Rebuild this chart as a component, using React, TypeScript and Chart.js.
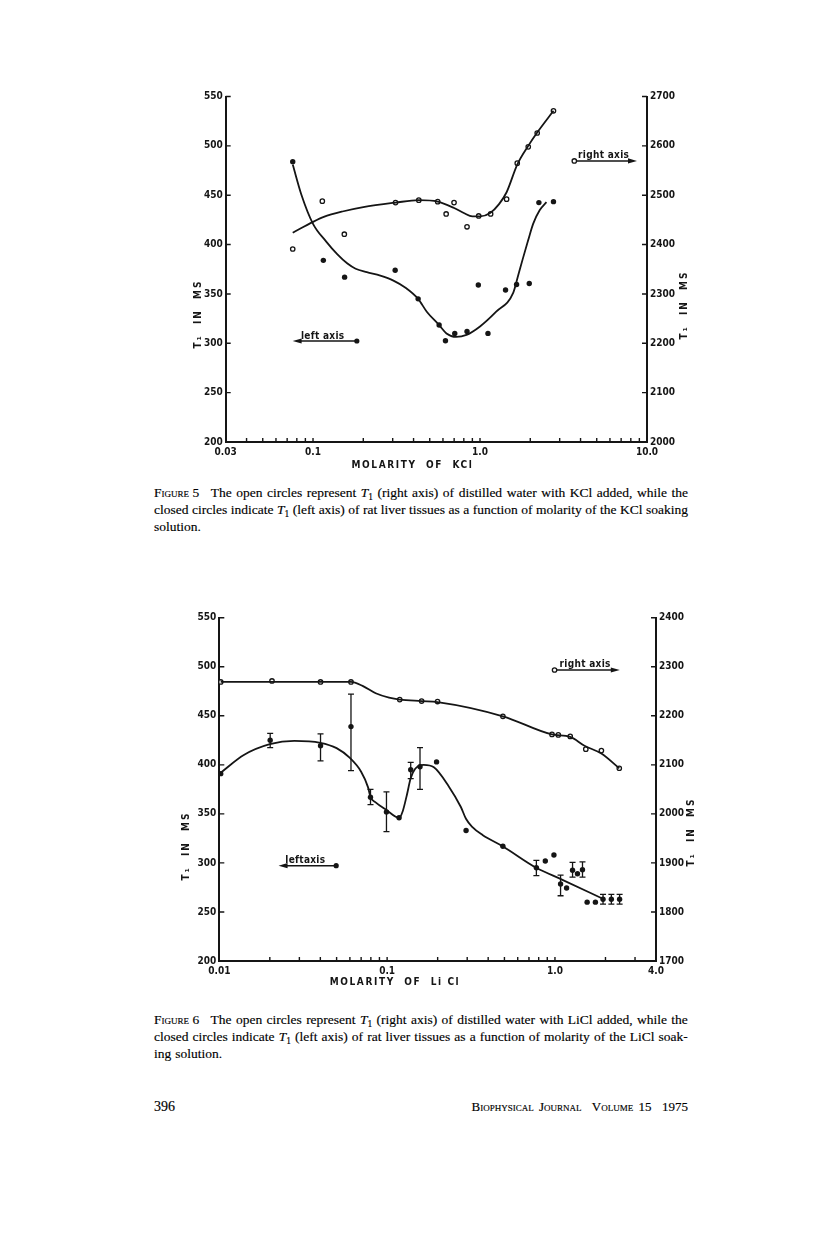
import React, { useEffect, useRef } from "react";
import { Chart, registerables } from "chart.js";

Chart.register(...registerables);

const INK = "#151515";
const SANS = '"DejaVu Sans Condensed", "DejaVu Sans", sans-serif';
const SERIF = '"Liberation Serif", "Times New Roman", serif';

// ---------------- Figure 5 : KCl ----------------
const kclTissueMolarity = [0.0756, 0.1153, 0.1546, 0.3105, 0.4261, 0.569, 0.621, 0.706, 0.836, 0.977, 1.116, 1.422, 1.656, 1.972, 2.252, 2.754];
const kclTissueT1 = [484, 384, 367, 374, 345, 318.5, 302.5, 310, 312, 359, 310, 354, 359.5, 360.5, 442.5, 443.5];
const kclTissueFitMolarity = [0.0756, 0.085, 0.1, 0.12, 0.14, 0.16, 0.18, 0.21, 0.253, 0.303, 0.36, 0.426, 0.48, 0.569, 0.63, 0.72, 0.83, 1.0, 1.25, 1.58, 1.7, 1.8, 1.94, 2.08, 2.28, 2.5];
const kclTissueFitT1 = [481, 451, 421, 403, 390, 381, 375.5, 372, 368.5, 363.5, 356, 345, 332, 318.5, 310, 306.5, 308.5, 317, 332, 351, 370, 385, 404, 421, 435, 443];
const kclWaterMolarity = [0.0756, 0.1137, 0.154, 0.312, 0.43, 0.558, 0.627, 0.699, 0.836, 0.982, 1.158, 1.443, 1.671, 1.945, 2.2, 2.754];
const kclWaterT1 = [2391, 2488, 2421, 2485, 2490, 2487, 2462, 2485, 2436, 2458, 2462, 2492, 2565, 2598, 2626, 2671];
const kclWaterFitMolarity = [0.0756, 0.1, 0.116, 0.15, 0.2, 0.312, 0.43, 0.558, 0.7, 0.8, 0.9, 1.0, 1.15, 1.3, 1.443, 1.671, 1.945, 2.2, 2.754];
const kclWaterFitT1 = [2424, 2446, 2456, 2467, 2476, 2485, 2490, 2487, 2474, 2464, 2457, 2457, 2464, 2482, 2506, 2562, 2600, 2627, 2671];
const kclXTicks = [0.03, 0.04, 0.05, 0.06, 0.07, 0.08, 0.09, 0.1, 0.2, 0.3, 0.4, 0.5, 0.6, 0.7, 0.8, 0.9, 1, 2, 3, 4, 5, 6, 7, 8, 9, 10];
const kclXLabelValues = [0.03, 0.1, 1, 10];
const kclXLabelTexts = ["0.03", "0.1", "1.0", "10.0"];
const kclLeftTicks = [200, 250, 300, 350, 400, 450, 500, 550];
const kclRightTicks = [2000, 2100, 2200, 2300, 2400, 2500, 2600, 2700];
// annotation arrows: [fromMolarity, toMolarity, leftAxisValue]
const kclRightNote = [3.67, 8.71, 484.7];
const kclLeftNote = [0.183, 0.0755, 302.3];

// ---------------- Figure 6 : LiCl ----------------
const licTissueMolarity = [0.0102, 0.0201, 0.0401, 0.0609, 0.0796, 0.0991, 0.1178, 0.1382, 0.157, 0.197, 0.2954, 0.4895, 0.775, 0.876, 0.986, 1.08, 1.173, 1.273, 1.362, 1.459, 1.555, 1.742, 1.934, 2.168, 2.428];
const licTissueT1 = [391, 425, 419.5, 439, 367, 352, 346, 395, 398, 403, 333, 317, 295, 302, 308, 278.5, 274.5, 292.5, 289, 293, 260, 260, 263, 263, 263];
const licTissueErrLow = [null, 417.5, 404, 394, 359.5, 332, null, 386, 375, null, null, null, 287, null, null, 266.5, null, 285.5, null, 285.5, null, null, 258, 258, 258];
const licTissueErrHigh = [null, 432, 431.5, 472, 375, 372.5, null, 402.5, 417.5, null, null, null, 302.5, null, null, 287.5, null, 300.5, null, 301, null, null, 268, 268, 268];
const licTissueFitMolarity = [0.0102, 0.014, 0.02, 0.028, 0.04, 0.05, 0.06, 0.07, 0.077, 0.0796, 0.085, 0.099, 0.118, 0.124, 0.131, 0.138, 0.147, 0.165, 0.19, 0.233, 0.275, 0.295, 0.32, 0.37, 0.49, 0.775, 1.1, 1.9];
const licTissueFitT1 = [392, 410, 421, 424.5, 422.5, 417, 407, 393, 377, 367, 362, 354, 346, 353, 369, 386, 396, 400, 397.5, 378, 357, 345, 337, 328.5, 316.8, 295, 283, 264];
const licWaterMolarity = [0.0102, 0.0206, 0.0401, 0.0609, 0.1189, 0.1605, 0.1997, 0.4895, 0.96, 1.047, 1.233, 1.527, 1.891, 2.417];
const licWaterT1 = [2269, 2271, 2269, 2269, 2233, 2230, 2229, 2199, 2162, 2161, 2158, 2132, 2129, 2093];
const licWaterFitMolarity = [0.0102, 0.0609, 0.0714, 0.0855, 0.1027, 0.1189, 0.1605, 0.1997, 0.4895, 0.96, 1.233, 1.5, 1.89, 2.417];
const licWaterFitT1 = [2269, 2269, 2261, 2246, 2237, 2233, 2230, 2228, 2199, 2162, 2157, 2139, 2123, 2093];
const licXTicks = [0.01, 0.02, 0.03, 0.04, 0.05, 0.06, 0.07, 0.08, 0.09, 0.1, 0.2, 0.3, 0.4, 0.5, 0.6, 0.7, 0.8, 0.9, 1, 2, 3, 4];
const licXLabelValues = [0.01, 0.1, 1, 4];
const licXLabelTexts = ["0.01", "0.1", "1.0", "4.0"];
const licLeftTicks = [200, 250, 300, 350, 400, 450, 500, 550];
const licRightTicks = [1700, 1800, 1900, 2000, 2100, 2200, 2300, 2400];
const licRightNote = [0.9945, 2.434, 496.7];
const licLeftNote = [0.0497, 0.02254, 297.2];

type Box = { left: number; top: number; width: number; height: number; axisLeft: number; axisRight: number; padTop: number; axisBottom: number };

type FigSpec = {
  box: Box;
  xMin: number; xMax: number; xTicks: number[]; xLabelValues: number[]; xLabelTexts: string[];
  leftTicks: number[]; rightTicks: number[];
  tissueM: number[]; tissueT1: number[]; tissueFitM: number[]; tissueFitT1: number[];
  waterM: number[]; waterT1: number[]; waterFitM: number[]; waterFitT1: number[];
  errM: number[]; errLow: (number | null)[]; errHigh: (number | null)[];
  rightNote: number[]; leftNote: number[];
  rightText: string; leftText: string; xTitle: string;
  xTitlePos: [number, number]; leftTitlePos: [number, number]; rightTitlePos: [number, number];
};

const fig5: FigSpec = {
  box: { left: 150, top: 80, width: 560, height: 400, axisLeft: 75.7, axisRight: 63, padTop: 16.5, axisBottom: 38 },
  xMin: 0.03, xMax: 10, xTicks: kclXTicks, xLabelValues: kclXLabelValues, xLabelTexts: kclXLabelTexts,
  leftTicks: kclLeftTicks, rightTicks: kclRightTicks,
  tissueM: kclTissueMolarity, tissueT1: kclTissueT1, tissueFitM: kclTissueFitMolarity, tissueFitT1: kclTissueFitT1,
  waterM: kclWaterMolarity, waterT1: kclWaterT1, waterFitM: kclWaterFitMolarity, waterFitT1: kclWaterFitT1,
  errM: [], errLow: [], errHigh: [],
  rightNote: kclRightNote, leftNote: kclLeftNote,
  rightText: "right axis", leftText: "left axis", xTitle: "MOLARITY  OF  KCl",
  xTitlePos: [262.5, 385], leftTitlePos: [48.5, 234], rightTitlePos: [534, 225],
};

const fig6: FigSpec = {
  box: { left: 150, top: 600, width: 570, height: 400, axisLeft: 69.3, axisRight: 64, padTop: 17.7, axisBottom: 39 },
  xMin: 0.01, xMax: 4, xTicks: licXTicks, xLabelValues: licXLabelValues, xLabelTexts: licXLabelTexts,
  leftTicks: licLeftTicks, rightTicks: licRightTicks,
  tissueM: licTissueMolarity, tissueT1: licTissueT1, tissueFitM: licTissueFitMolarity, tissueFitT1: licTissueFitT1,
  waterM: licWaterMolarity, waterT1: licWaterT1, waterFitM: licWaterFitMolarity, waterFitT1: licWaterFitT1,
  errM: licTissueMolarity, errLow: licTissueErrLow, errHigh: licTissueErrHigh,
  rightNote: licRightNote, leftNote: licLeftNote,
  rightText: "right axis", leftText: "leftaxis", xTitle: "MOLARITY  OF  Li Cl",
  xTitlePos: [245, 382], leftTitlePos: [36, 246], rightTitlePos: [541, 232],
};

const TICK_FONT = { family: SANS, size: 10, weight: "bold" as const };

function makeDecor(s: FigSpec) {
  return {
    id: "paperDecor",
    afterDraw(chart: any) {
      const ctx: CanvasRenderingContext2D = chart.ctx;
      const { x, y, y2 } = chart.scales;
      const a = chart.chartArea;
      ctx.save();
      ctx.strokeStyle = INK;
      ctx.fillStyle = INK;
      ctx.lineCap = "butt";
      // inward tick marks
      ctx.lineWidth = 1.4;
      ctx.beginPath();
      for (const t of x.ticks) {
        const px = x.getPixelForValue(t.value);
        ctx.moveTo(px, a.bottom);
        ctx.lineTo(px, a.bottom - 4);
      }
      for (const t of y.ticks) {
        const py = y.getPixelForValue(t.value);
        ctx.moveTo(a.left, py);
        ctx.lineTo(a.left + 5, py);
      }
      for (const t of y2.ticks) {
        const py = y2.getPixelForValue(t.value);
        ctx.moveTo(a.right, py);
        ctx.lineTo(a.right - 5, py);
      }
      ctx.stroke();
      // error bars
      ctx.lineWidth = 1.3;
      ctx.beginPath();
      s.errM.forEach((m, i) => {
        const lo = s.errLow[i];
        const hi = s.errHigh[i];
        if (lo == null || hi == null) return;
        const px = x.getPixelForValue(m);
        const pl = y.getPixelForValue(lo);
        const ph = y.getPixelForValue(hi);
        ctx.moveTo(px, pl); ctx.lineTo(px, ph);
        ctx.moveTo(px - 3, pl); ctx.lineTo(px + 3, pl);
        ctx.moveTo(px - 3, ph); ctx.lineTo(px + 3, ph);
      });
      ctx.stroke();
      // annotation arrows
      const arrow = (note: number[], open: boolean, text: string) => {
        const x1 = x.getPixelForValue(note[0]);
        const x2 = x.getPixelForValue(note[1]);
        const py = y.getPixelForValue(note[2]);
        const dir = Math.sign(x2 - x1);
        ctx.lineWidth = 1.5;
        ctx.beginPath();
        ctx.moveTo(x1, py);
        ctx.lineTo(x2 - dir * 6, py);
        ctx.stroke();
        ctx.beginPath();
        ctx.moveTo(x2, py);
        ctx.lineTo(x2 - dir * 9, py - 2.6);
        ctx.lineTo(x2 - dir * 9, py + 2.6);
        ctx.closePath();
        ctx.fill();
        ctx.beginPath();
        ctx.arc(x1, py, open ? 2.2 : 2.6, 0, Math.PI * 2);
        if (open) {
          ctx.fillStyle = "#fff";
          ctx.fill();
          ctx.lineWidth = 1.3;
          ctx.stroke();
          ctx.fillStyle = INK;
        } else {
          ctx.fill();
        }
        ctx.font = `bold 10px ${SANS}`;
        (ctx as any).letterSpacing = "0.3px";
        ctx.textAlign = "center";
        ctx.textBaseline = "alphabetic";
        ctx.fillText(text, (x1 + x2) / 2 - 2, py - 2.5);
        (ctx as any).letterSpacing = "0px";
      };
      arrow(s.rightNote, true, s.rightText);
      arrow(s.leftNote, false, s.leftText);
      // axis titles
      ctx.font = `bold 10px ${SANS}`;
      (ctx as any).letterSpacing = "1.6px";
      ctx.textAlign = "center";
      ctx.textBaseline = "middle";
      ctx.fillText(s.xTitle, s.xTitlePos[0], s.xTitlePos[1]);
      (ctx as any).letterSpacing = "2px";
      for (const p of [s.leftTitlePos, s.rightTitlePos]) {
        ctx.save();
        ctx.translate(p[0], p[1]);
        ctx.rotate(-Math.PI / 2);
        ctx.fillText("T\u2081  IN  MS", 0, 0);
        ctx.restore();
      }
      ctx.restore();
    },
  };
}

function buildConfig(s: FigSpec): any {
  const pts = (xs: number[], ys: number[]) => xs.map((v, i) => ({ x: v, y: ys[i] }));
  const labelFor = (v: number) => {
    const i = s.xLabelValues.findIndex((l) => Math.abs(l - v) < 1e-9);
    return i >= 0 ? s.xLabelTexts[i] : "";
  };
  const border = { display: true, color: INK, width: 2 };
  const grid = { display: false, drawTicks: false };
  const plain = (v: any) => String(v);
  return {
    type: "line",
    data: {
      datasets: [
        { data: pts(s.tissueFitM, s.tissueFitT1), yAxisID: "y", borderColor: INK, borderWidth: 1.8, pointRadius: 0, cubicInterpolationMode: "monotone", fill: false },
        { data: pts(s.waterFitM, s.waterFitT1), yAxisID: "y2", borderColor: INK, borderWidth: 1.8, pointRadius: 0, cubicInterpolationMode: "monotone", fill: false },
        { data: pts(s.tissueM, s.tissueT1), yAxisID: "y", showLine: false, pointRadius: 2.7, pointBackgroundColor: INK, pointBorderColor: INK, pointBorderWidth: 0 },
        { data: pts(s.waterM, s.waterT1), yAxisID: "y2", showLine: false, pointRadius: 2.2, pointBackgroundColor: "#fff", pointBorderColor: INK, pointBorderWidth: 1.3 },
      ],
    },
    options: {
      responsive: false,
      animation: false,
      events: [],
      layout: { padding: { top: s.box.padTop, left: 0, right: 0, bottom: 0 } },
      plugins: { legend: { display: false }, tooltip: { enabled: false } },
      scales: {
        x: {
          type: "logarithmic",
          position: "bottom",
          min: s.xMin,
          max: s.xMax,
          grid,
          border,
          ticks: { autoSkip: false, maxRotation: 0, minRotation: 0, padding: 4, color: INK, font: TICK_FONT, callback: (_v: any, i: number, ticks: any[]) => labelFor(ticks[i].value) },
          afterBuildTicks: (sc: any) => { sc.ticks = s.xTicks.map((v) => ({ value: v })); },
          afterFit: (sc: any) => { sc.height = s.box.axisBottom; },
        },
        y: {
          type: "linear",
          position: "left",
          min: s.leftTicks[0],
          max: s.leftTicks[s.leftTicks.length - 1],
          grid,
          border,
          ticks: { padding: 3, color: INK, font: TICK_FONT, autoSkip: false, callback: plain },
          afterBuildTicks: (sc: any) => { sc.ticks = s.leftTicks.map((v) => ({ value: v })); },
          afterFit: (sc: any) => { sc.width = s.box.axisLeft; },
        },
        y2: {
          type: "linear",
          position: "right",
          min: s.rightTicks[0],
          max: s.rightTicks[s.rightTicks.length - 1],
          grid,
          border,
          ticks: { padding: 3, color: INK, font: TICK_FONT, autoSkip: false, callback: plain },
          afterBuildTicks: (sc: any) => { sc.ticks = s.rightTicks.map((v) => ({ value: v })); },
          afterFit: (sc: any) => { sc.width = s.box.axisRight; },
        },
      },
    },
    plugins: [makeDecor(s)],
  };
}

function FigureCanvas({ spec }: { spec: FigSpec }) {
  const ref = useRef<HTMLCanvasElement>(null);
  useEffect(() => {
    const chart = new Chart(ref.current as HTMLCanvasElement, buildConfig(spec));
    return () => chart.destroy();
  }, [spec]);
  const b = spec.box;
  return (
    <canvas
      ref={ref}
      width={b.width}
      height={b.height}
      style={{ position: "absolute", left: b.left, top: b.top, width: b.width, height: b.height }}
    />
  );
}

function Token({ t }: { t: string }) {
  if (t === "{T1}")
    return (
      <span>
        <i>T</i>
        <sub style={{ fontSize: "0.7em", verticalAlign: "-0.3em", lineHeight: 0 }}>1</sub>
      </span>
    );
  if (t.startsWith("{FIG")) {
    const n = t.replace(/[^0-9]/g, "");
    return (
      <span style={{ marginRight: 7 }}>
        F<span style={{ fontVariant: "small-caps" }}>igure</span> {n}
      </span>
    );
  }
  return <span>{t}</span>;
}

function CapLine({ text, top, justify }: { text: string; top: number; justify: boolean }) {
  const words = text.split(" ");
  return (
    <div
      style={{
        position: "absolute",
        left: 154,
        top,
        width: 534,
        height: 17,
        lineHeight: "17px",
        display: "flex",
        justifyContent: justify ? "space-between" : "flex-start",
        columnGap: justify ? 0 : 4,
        whiteSpace: "nowrap",
        fontFamily: SERIF,
        fontSize: 13.5,
        color: "#000",
        WebkitTextStroke: "0.15px #000",
      }}
    >
      {words.map((w, i) => (
        <Token key={i} t={w} />
      ))}
    </div>
  );
}

const caption5 = [
  "{FIG5} The open circles represent {T1} (right axis) of distilled water with KCl added, while the",
  "closed circles indicate {T1} (left axis) of rat liver tissues as a function of molarity of the KCl soaking",
  "solution.",
];
const caption6 = [
  "{FIG6} The open circles represent {T1} (right axis) of distilled water with LiCl added, while the",
  "closed circles indicate {T1} (left axis) of rat liver tissues as a function of molarity of the LiCl soak-",
  "ing solution.",
];

export default function App() {
  return (
    <div style={{ position: "absolute", left: 0, top: 0, width: 816, height: 1246, background: "#fff", overflow: "hidden" }}>
      <FigureCanvas spec={fig5} />
      {caption5.map((l, i) => (
        <CapLine key={"c5" + i} text={l} top={483.5 + i * 17} justify={i < 2} />
      ))}
      <FigureCanvas spec={fig6} />
      {caption6.map((l, i) => (
        <CapLine key={"c6" + i} text={l} top={1010.5 + i * 17} justify={i < 2} />
      ))}
      <div style={{ position: "absolute", left: 154, top: 1098, fontFamily: SERIF, fontSize: 14, lineHeight: "17px", color: "#000", WebkitTextStroke: "0.15px #000" }}>396</div>
      <div
        style={{
          position: "absolute",
          left: 154,
          top: 1098,
          width: 534,
          textAlign: "right",
          fontFamily: SERIF,
          fontSize: 13,
          lineHeight: "17px",
          color: "#000",
          fontVariant: "small-caps",
          wordSpacing: 2,
          whiteSpace: "nowrap",
          WebkitTextStroke: "0.15px #000",
        }}
      >
        Biophysical Journal&nbsp; Volume 15&nbsp; 1975
      </div>
    </div>
  );
}
